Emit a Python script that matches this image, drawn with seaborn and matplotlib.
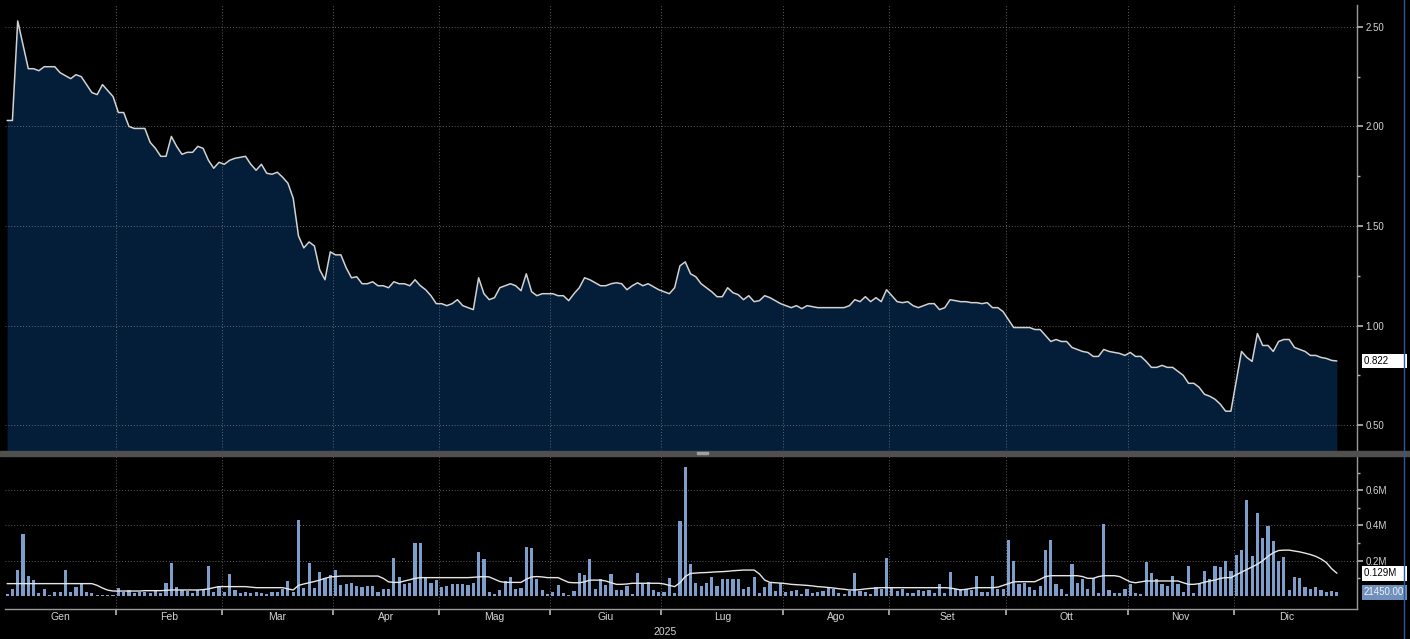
import numpy as np
import pandas as pd
import matplotlib
matplotlib.use('Agg')
import matplotlib.pyplot as plt
import seaborn as sns
from matplotlib.patches import Rectangle
from matplotlib.lines import Line2D

# trading days (exchange holidays removed)
holidays = ['2025-01-06', '2025-04-18', '2025-04-21', '2025-05-01',
            '2025-08-15', '2025-12-24', '2025-12-25', '2025-12-26']
dates = pd.bdate_range('2025-01-02', '2025-12-31')
dates = dates[~dates.isin(pd.to_datetime(holidays))]

month_names = ['Gen', 'Feb', 'Mar', 'Apr', 'Mag', 'Giu',
               'Lug', 'Ago', 'Set', 'Ott', 'Nov', 'Dic']

price = [
    # Gen
    2.03, 2.03, 2.53, 2.41, 2.29, 2.29, 2.28, 2.30, 2.30, 2.30, 2.27, 2.255,
    2.24, 2.26, 2.25, 2.21, 2.17, 2.16, 2.21, 2.18, 2.15,
    # Feb
    2.07, 2.07, 2.00, 1.99, 1.99, 1.99, 1.92, 1.89, 1.85, 1.85, 1.95, 1.90,
    1.86, 1.87, 1.87, 1.90, 1.89, 1.83, 1.79, 1.82,
    # Mar
    1.81, 1.83, 1.84, 1.845, 1.85, 1.81, 1.78, 1.81, 1.765, 1.76, 1.77, 1.745,
    1.715, 1.64, 1.45, 1.39, 1.42, 1.40, 1.28, 1.23, 1.37,
    # Apr
    1.355, 1.355, 1.29, 1.24, 1.245, 1.21, 1.21, 1.22, 1.20, 1.20, 1.19, 1.22,
    1.21, 1.21, 1.20, 1.23, 1.20, 1.18, 1.15, 1.11,
    # Mag
    1.11, 1.10, 1.11, 1.13, 1.10, 1.09, 1.08, 1.24, 1.16, 1.13, 1.14, 1.19,
    1.20, 1.21, 1.20, 1.175, 1.26, 1.17, 1.15, 1.16, 1.16,
    # Giu
    1.16, 1.15, 1.15, 1.125, 1.16, 1.19, 1.24, 1.23, 1.215, 1.20, 1.20, 1.21,
    1.215, 1.21, 1.18, 1.20, 1.215, 1.20, 1.21, 1.195, 1.18,
    # Lug
    1.17, 1.16, 1.19, 1.30, 1.32, 1.26, 1.245, 1.21, 1.19, 1.17, 1.145, 1.145,
    1.19, 1.165, 1.155, 1.13, 1.15, 1.12, 1.125, 1.15, 1.14, 1.125, 1.11,
    # Ago
    1.10, 1.09, 1.10, 1.085, 1.10, 1.095, 1.09, 1.09, 1.09, 1.09, 1.09, 1.09,
    1.10, 1.13, 1.12, 1.145, 1.12, 1.14, 1.12, 1.18,
    # Set
    1.15, 1.12, 1.115, 1.12, 1.10, 1.09, 1.10, 1.11, 1.11, 1.08, 1.09, 1.13,
    1.125, 1.12, 1.12, 1.115, 1.115, 1.11, 1.115, 1.09, 1.09, 1.07,
    # Ott
    1.03, 0.99, 0.99, 0.99, 0.99, 0.98, 0.98, 0.95, 0.92, 0.93, 0.92, 0.92,
    0.89, 0.88, 0.87, 0.865, 0.845, 0.845, 0.88, 0.87, 0.865, 0.86, 0.85,
    # Nov
    0.865, 0.845, 0.845, 0.82, 0.79, 0.79, 0.80, 0.79, 0.79, 0.77, 0.75, 0.71,
    0.71, 0.69, 0.655, 0.645, 0.63, 0.605, 0.57, 0.57,
    # Dic
    0.72, 0.87, 0.84, 0.82, 0.96, 0.90, 0.90, 0.87, 0.92, 0.93, 0.93, 0.89,
    0.88, 0.87, 0.85, 0.85, 0.84, 0.835, 0.825, 0.822,
]

# volume in millions of shares
volume = [
    # Gen
    0.01, 0.04, 0.15, 0.35, 0.115, 0.09, 0.015, 0.04, 0.008, 0.023, 0.02, 0.15,
    0.025, 0.053, 0.066, 0.02, 0.015, 0.008, 0.004, 0.004, 0.005,
    # Feb
    0.043, 0.025, 0.034, 0.015, 0.025, 0.025, 0.019, 0.034, 0.019, 0.072, 0.185, 0.049,
    0.034, 0.03, 0.019, 0.034, 0.038, 0.172, 0.025, 0.057,
    # Mar
    0.02, 0.125, 0.034, 0.015, 0.025, 0.019, 0.025, 0.015, 0.011, 0.025, 0.025, 0.042,
    0.085, 0.025, 0.43, 0.047, 0.185, 0.047, 0.134, 0.10, 0.119,
    # Apr
    0.15, 0.064, 0.066, 0.075, 0.057, 0.049, 0.058, 0.057, 0.025, 0.04, 0.04, 0.213,
    0.11, 0.066, 0.075, 0.30, 0.30, 0.11, 0.075, 0.09,
    # Mag
    0.049, 0.057, 0.066, 0.066, 0.066, 0.062, 0.072, 0.25, 0.21, 0.025, 0.011, 0.034,
    0.085, 0.11, 0.04, 0.047, 0.276, 0.27, 0.096, 0.034, 0.011,
    # Giu
    0.02, 0.062, 0.019, 0.006, 0.028, 0.128, 0.12, 0.208, 0.04, 0.094, 0.062, 0.125,
    0.034, 0.034, 0.057, 0.011, 0.128, 0.066, 0.081, 0.034, 0.02,
    # Lug
    0.025, 0.10, 0.019, 0.425, 0.733, 0.18, 0.072, 0.057, 0.072, 0.106, 0.059, 0.096,
    0.096, 0.096, 0.096, 0.038, 0.049, 0.11, 0.019, 0.049, 0.075, 0.028, 0.072,
    # Ago
    0.025, 0.03, 0.034, 0.011, 0.04, 0.019, 0.025, 0.028, 0.053, 0.04, 0.019, 0.011,
    0.03, 0.128, 0.028, 0.025, 0.011, 0.049, 0.04, 0.217,
    # Set
    0.047, 0.028, 0.04, 0.015, 0.015, 0.034, 0.028, 0.034, 0.015, 0.066, 0.015, 0.134,
    0.04, 0.04, 0.04, 0.034, 0.115, 0.025, 0.025, 0.115, 0.04, 0.04,
    # Ott
    0.317, 0.198, 0.066, 0.075, 0.049, 0.034, 0.057, 0.26, 0.32, 0.066, 0.04, 0.011,
    0.18, 0.072, 0.096, 0.04, 0.10, 0.015, 0.408, 0.034, 0.015, 0.019, 0.04,
    # Nov
    0.066, 0.015, 0.011, 0.19, 0.128, 0.096, 0.066, 0.057, 0.115, 0.066, 0.025, 0.17,
    0.019, 0.075, 0.142, 0.096, 0.17, 0.162, 0.198, 0.142,
    # Dic
    0.232, 0.26, 0.544, 0.227, 0.468, 0.327, 0.398, 0.313, 0.20, 0.219, 0.034, 0.106,
    0.102, 0.049, 0.04, 0.053, 0.034, 0.025, 0.03, 0.02145,
]

# volume moving average (millions)
volume_ma = [
    # Gen
    0.07, 0.07, 0.07, 0.07, 0.07, 0.07, 0.07, 0.07, 0.07, 0.07, 0.07, 0.07,
    0.07, 0.07, 0.07, 0.07, 0.07, 0.06, 0.045, 0.033, 0.028,
    # Feb
    0.028, 0.028, 0.028, 0.028, 0.028, 0.03, 0.03, 0.03, 0.03, 0.032, 0.034, 0.034,
    0.034, 0.034, 0.034, 0.034, 0.036, 0.04, 0.047, 0.053,
    # Mar
    0.053, 0.053, 0.053, 0.053, 0.053, 0.05, 0.047, 0.047, 0.047, 0.047, 0.047, 0.047,
    0.04, 0.034, 0.06, 0.068, 0.075, 0.082, 0.09, 0.10, 0.108,
    # Apr
    0.11, 0.113, 0.113, 0.113, 0.113, 0.113, 0.113, 0.113, 0.113, 0.10, 0.08, 0.077,
    0.077, 0.085, 0.092, 0.10, 0.104, 0.104, 0.104, 0.104,
    # Mag
    0.104, 0.104, 0.104, 0.104, 0.104, 0.104, 0.106, 0.108, 0.11, 0.108, 0.095, 0.082,
    0.077, 0.077, 0.077, 0.077, 0.095, 0.108, 0.11, 0.108, 0.104,
    # Giu
    0.104, 0.104, 0.09, 0.077, 0.075, 0.075, 0.08, 0.09, 0.09, 0.09, 0.085, 0.075,
    0.066, 0.066, 0.068, 0.072, 0.072, 0.072, 0.072, 0.072, 0.072,
    # Lug
    0.068, 0.06, 0.053, 0.075, 0.11, 0.128, 0.13, 0.132, 0.133, 0.135, 0.137, 0.138,
    0.14, 0.143, 0.145, 0.147, 0.147, 0.147, 0.125, 0.09, 0.077, 0.075, 0.073,
    # Ago
    0.07, 0.066, 0.064, 0.062, 0.06, 0.057, 0.053, 0.051, 0.048, 0.045, 0.041, 0.038,
    0.034, 0.034, 0.036, 0.04, 0.043, 0.045, 0.047, 0.047,
    # Set
    0.047, 0.047, 0.047, 0.047, 0.047, 0.047, 0.047, 0.047, 0.047, 0.047, 0.047, 0.045,
    0.04, 0.034, 0.038, 0.043, 0.047, 0.047, 0.047, 0.047, 0.05, 0.06,
    # Ott
    0.07, 0.08, 0.081, 0.081, 0.081, 0.081, 0.095, 0.11, 0.115, 0.115, 0.115, 0.115,
    0.115, 0.115, 0.11, 0.10, 0.10, 0.11, 0.115, 0.115, 0.115, 0.11, 0.095,
    # Nov
    0.08, 0.075, 0.08, 0.085, 0.085, 0.085, 0.085, 0.085, 0.085, 0.085, 0.075, 0.066,
    0.066, 0.07, 0.078, 0.085, 0.09, 0.10, 0.104, 0.104,
    # Dic
    0.12, 0.135, 0.15, 0.165, 0.18, 0.20, 0.225, 0.245, 0.258, 0.26, 0.26, 0.255,
    0.25, 0.243, 0.235, 0.225, 0.21, 0.19, 0.155, 0.129,
]

df = pd.DataFrame({'day': np.arange(len(dates)), 'date': dates,
                   'price': price, 'volume': volume, 'vol_ma': volume_ma})

# month boundaries on the trading-day axis
month_start = df.groupby(df['date'].dt.month)['day'].min().values
bounds = list(month_start - 0.5) + [df['day'].max() + 0.5]
bounds[0] = -0.5
mids = [(bounds[k] + bounds[k + 1]) / 2 for k in range(12)]

sns.set_theme(style='dark', rc={'axes.facecolor': 'black',
                                'figure.facecolor': 'black',
                                'savefig.facecolor': 'black'})
plt.rcParams['font.family'] = ['Liberation Sans', 'DejaVu Sans']

txt = '#d4d4d4'
grid_kw = dict(color='#9a9a9a', linestyle=(0, (1, 2)), linewidth=0.7, alpha=0.6)

W, H = 1410, 639
fig = plt.figure(figsize=(W / 100, H / 100), dpi=100)
ax = fig.add_axes([5 / W, 1 - 450 / H, 1352 / W, 445 / H])
ax2 = fig.add_axes([5 / W, 1 - 609 / H, 1352 / W, 154 / H])

# --- price panel
ax.fill_between(df['day'], df['price'], 0, color='#041d38', zorder=1, lw=0)
sns.lineplot(data=df, x='day', y='price', color='#d2d2d2', linewidth=1.1,
             ax=ax, zorder=3)
ax.set_xlim(-0.4, 254.8)
ax.set_ylim(0.375, 2.61)
ax.set_yticks([0.5, 1.0, 1.5, 2.0, 2.5])
ax.set_yticks([0.75, 1.25, 1.75, 2.25], minor=True)
ax.set_yticklabels(['0.50', '1.00', '1.50', '2.00', '2.50'])
ax.set_xticks(bounds[1:12])
ax.set_xticklabels([])
ax.yaxis.tick_right()
ax.tick_params(axis='y', which='major', colors=txt, labelsize=7, length=4,
               direction='out', pad=2, right=True, color='#b0b0b0')
ax.tick_params(axis='y', which='minor', length=2, right=True, color='#b0b0b0')
ax.tick_params(axis='x', length=0)
ax.grid(True, which='major', **grid_kw)
ax.set_axisbelow(False)
ax.set_xlabel('')
ax.set_ylabel('')
for s in ['top', 'left', 'bottom']:
    ax.spines[s].set_visible(False)
ax.spines['right'].set_color('#9a9a9a')
ax.spines['right'].set_linewidth(1)

ax.annotate(f'{price[-1]:.3f}      ', xy=(1, price[-1]),
            xycoords=('axes fraction', 'data'), xytext=(5, 0),
            textcoords='offset points', ha='left', va='center', fontsize=7,
            color='black',
            bbox=dict(boxstyle='square,pad=0.25', fc='white', ec='none'))

# --- volume panel
sns.barplot(data=df, x='day', y='volume', native_scale=True, color='#7d9ecb',
            saturation=1, width=0.6, errorbar=None, ax=ax2, zorder=2,
            edgecolor='none', linewidth=0)
sns.lineplot(data=df, x='day', y='vol_ma', color='#e6e6e6', linewidth=1.0,
             ax=ax2, zorder=3)
ax2.set_xlim(-0.4, 254.8)
ax2.set_ylim(-0.074, 0.80)
ax2.set_yticks([0.2, 0.4, 0.6])
ax2.set_yticklabels(['0.2M', '0.4M', '0.6M'])
ax2.set_yticks([0.1, 0.3, 0.5, 0.7], minor=True)
ax2.yaxis.tick_right()
ax2.tick_params(axis='y', which='major', colors=txt, labelsize=7, length=4,
                direction='out', pad=2, right=True, color='#b0b0b0')
ax2.tick_params(axis='y', which='minor', length=2, right=True, color='#b0b0b0')
ax2.set_xticks(bounds[1:12])
ax2.set_xticklabels([])
ax2.set_xticks(mids, minor=True)
ax2.set_xticklabels(month_names, minor=True)
ax2.tick_params(axis='x', which='major', length=4, color='#b0b0b0',
                direction='out', bottom=True)
ax2.tick_params(axis='x', which='minor', length=0, colors=txt, labelsize=7.5,
                pad=2, bottom=True)
ax2.grid(True, which='major', **grid_kw)
ax2.set_xlabel('')
ax2.set_ylabel('')
for s in ['top', 'left']:
    ax2.spines[s].set_visible(False)
for s in ['right', 'bottom']:
    ax2.spines[s].set_color('#9a9a9a')
    ax2.spines[s].set_linewidth(1)

ax2.annotate(f'{volume_ma[-1]:.3f}M   ', xy=(1, volume_ma[-1]),
             xycoords=('axes fraction', 'data'), xytext=(5, 0),
             textcoords='offset points', ha='left', va='center', fontsize=7,
             color='black',
             bbox=dict(boxstyle='square,pad=0.25', fc='white', ec='none'))
ax2.annotate(f'{volume[-1] * 1e6:.2f}', xy=(1, volume[-1]),
             xycoords=('axes fraction', 'data'), xytext=(5, 0),
             textcoords='offset points', ha='left', va='center', fontsize=7,
             color='#f2f2f2',
             bbox=dict(boxstyle='square,pad=0.25', fc='#6f8fbd', ec='none'))

fig.text(665 / W, 1 - 632 / H, '2025', ha='center', va='center',
         fontsize=7.5, color=txt)

# panel separator and frame details
fig.patches.append(Rectangle((0, 1 - 456 / H), 1, 5 / H,
                             transform=fig.transFigure, color='#505050'))
fig.patches.append(Rectangle((697 / W, 1 - 454 / H), 11 / W, 2 / H,
                             transform=fig.transFigure, color='#a0a0a0'))
fig.lines.append(Line2D([1404 / W, 1404 / W], [0, 1], transform=fig.transFigure,
                        color='#2c5a96', linewidth=1))

fig.savefig('out.png', dpi=100, facecolor='black')
